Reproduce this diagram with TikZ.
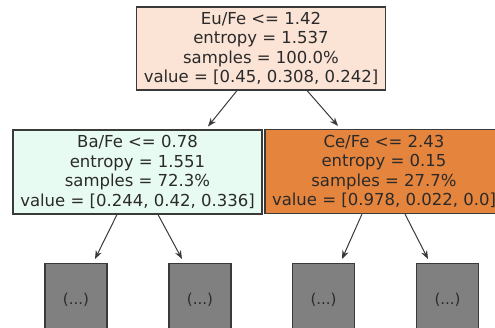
\documentclass[tikz,border=0pt]{standalone}
\usepackage{fontspec}
\setmainfont{DejaVu Sans}
\usetikzlibrary{calc,arrows.meta}
\definecolor{rootfill}{HTML}{FBE3D6}
\definecolor{leftfill}{HTML}{E8FBF2}
\definecolor{rightfill}{HTML}{E5843D}
\definecolor{leaffill}{HTML}{808080}
\definecolor{edgecol}{HTML}{3A3A3A}
\definecolor{txtcol}{HTML}{2A2A2A}
\tikzset{
  tbox/.style={draw=edgecol, line width=1.1pt, align=center, inner sep=0pt,
    font=\fontsize{16.5}{19.5}\selectfont, text=txtcol},
  leaf/.style={draw=edgecol, line width=1.1pt, fill=leaffill, minimum width=62pt,
    minimum height=72pt, inner sep=0pt, font=\fontsize{15}{18}\selectfont, text=txtcol},
  arr/.style={draw=edgecol, line width=1pt, -{Stealth[length=8.5pt,width=6.5pt]}}
}
\begin{document}
\begin{tikzpicture}[x=1pt,y=1pt]
\useasboundingbox (0,0) rectangle (495,-328);
\clip (0,0) rectangle (495,-328);
\node[tbox, fill=rootfill, minimum width=249pt, minimum height=83pt] (root) at (261,-48.5)
  {Eu/Fe <= 1.42\\entropy = 1.537\\samples = 100.0\%\\value = [0.45, 0.308, 0.242]};
\node[tbox, fill=leftfill, minimum width=249pt, minimum height=84pt] (left) at (137.5,-172)
  {Ba/Fe <= 0.78\\entropy = 1.551\\samples = 72.3\%\\value = [0.244, 0.42, 0.336]};
\node[tbox, fill=rightfill, minimum width=238pt, minimum height=84pt] (right) at (384,-171.5)
  {Ce/Fe <= 2.43\\entropy = 0.15\\samples = 27.7\%\\value = [0.978, 0.022, 0.0]};
\node[leaf, anchor=north] (b1) at (76,-263) {(...)};
\node[leaf, anchor=north] (b2) at (200,-263) {(...)};
\node[leaf, anchor=north] (b3) at (323.5,-263) {(...)};
\node[leaf, anchor=north] (b4) at (447.5,-263) {(...)};
\draw[arr] ($(root.south)+(-24,0)$) -- ($(left.north)+(70.5,3)$);
\draw[arr] ($(root.south)+(46,0)$) -- ($(right.north)+(-46,3)$);
\draw[arr] ($(left.south)+(-20.5,0)$) -- ($(b1.north)+(19,4)$);
\draw[arr] ($(left.south)+(20.5,0)$) -- ($(b2.north)+(-18,4)$);
\draw[arr] ($(right.south)+(-22,0)$) -- ($(b3.north)+(18.5,4)$);
\draw[arr] ($(right.south)+(21,0)$) -- ($(b4.north)+(-19.5,4)$);
\end{tikzpicture}
\end{document}
